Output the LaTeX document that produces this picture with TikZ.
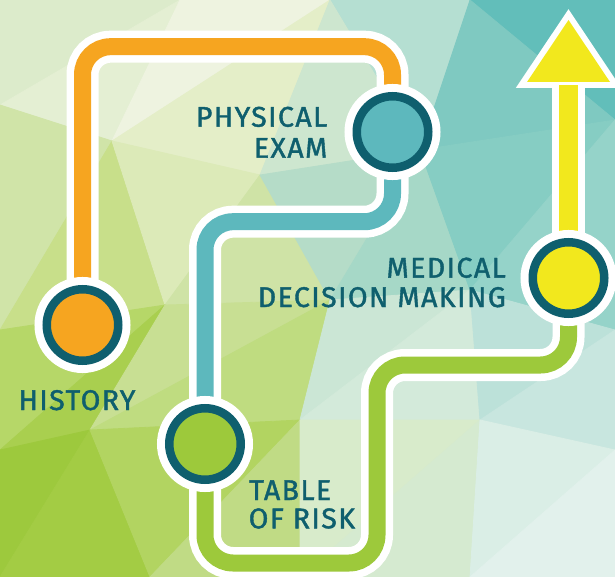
\documentclass[tikz,border=0pt]{standalone}
\usepackage{fontspec}
\newfontfamily\labelfont{Fira Sans}[LetterSpace=5,FakeBold=1.4]
\definecolor{orangec}{HTML}{F6A520}
\definecolor{tealc}{HTML}{5DB8BD}
\definecolor{greenc}{HTML}{9DC93B}
\definecolor{yellowc}{HTML}{F2E81D}
\definecolor{ringc}{HTML}{0F5F6E}
\definecolor{textc}{HTML}{0F5F6E}
\pgfdeclarelayer{bgpoly}
\pgfdeclarelayer{lines}
\pgfsetlayers{bgpoly,lines,main}
\newcommand\polytri[4]{\definecolor{tmpc}{HTML}{#4}\filldraw[fill=tmpc,draw=tmpc,line width=0.8pt,line join=round] (#1)--(#2)--(#3)--cycle;}
\tikzset{
  stopnode/.style={circle, minimum size=71.5pt, inner sep=0pt, line width=8.5pt, draw=ringc, fill=#1, preaction={draw=white, line width=24.5pt}},
  whiteband/.style={draw=white, line width=32pt, rounded corners=28pt},
  colorband/.style={draw=#1, line width=17pt, rounded corners=28pt},
  lbl/.style={text=textc, font=\labelfont\fontsize{28.5}{30}\selectfont, inner sep=0pt}
}
\begin{document}
\begin{tikzpicture}[x=1pt,y=-1pt]
\useasboundingbox (0,0) rectangle (615,577);
% mesh vertices
\coordinate (a0) at (0,0);   \coordinate (a1) at (180,0);   \coordinate (a2) at (330,0);   \coordinate (a3) at (470,0);   \coordinate (a4) at (615,0);
\coordinate (b0) at (0,105); \coordinate (b1) at (112,141); \coordinate (b2) at (260,175); \coordinate (b3) at (420,150); \coordinate (b4) at (615,120);
\coordinate (c0) at (0,330); \coordinate (c1) at (165,305); \coordinate (c2) at (330,300); \coordinate (c3) at (470,290); \coordinate (c4) at (615,330);
\coordinate (d0) at (0,450); \coordinate (d1) at (90,430);  \coordinate (d2) at (300,420); \coordinate (d3) at (480,420); \coordinate (d4) at (615,450);
\coordinate (e0) at (0,577); \coordinate (e1) at (150,577); \coordinate (e2) at (300,577); \coordinate (e3) at (470,577); \coordinate (e4) at (615,577);
\begin{pgfonlayer}{bgpoly}
\polytri{a0}{a1}{b0}{DCEBCB}\polytri{a1}{b1}{b0}{E4EFD3}
\polytri{a1}{a2}{b1}{EEF3E0}\polytri{a2}{b2}{b1}{E4EEC8}
\polytri{a2}{a3}{b3}{B5DFD2}\polytri{a2}{b3}{b2}{CDE6CF}
\polytri{a3}{a4}{b4}{62BEBA}\polytri{a3}{b4}{b3}{7FC9C1}
\polytri{b0}{b1}{c0}{D0E4A8}\polytri{b1}{c1}{c0}{C8DF8A}
\polytri{b1}{b2}{c1}{DCEAB8}\polytri{b2}{c2}{c1}{CFE3A6}
\polytri{b2}{b3}{c2}{B5DCC8}\polytri{b3}{c3}{c2}{A6D8C7}
\polytri{b3}{b4}{c3}{86CDC3}\polytri{b4}{c4}{c3}{95D3C9}
\polytri{c0}{c1}{d0}{B6D768}\polytri{c1}{d1}{d0}{A9CF4F}
\polytri{c1}{c2}{d1}{C8DF93}\polytri{c2}{d2}{d1}{BFDC80}
\polytri{c2}{c3}{d2}{CBE6D5}\polytri{c3}{d3}{d2}{D3EADA}
\polytri{c3}{c4}{d3}{BCE1D9}\polytri{c4}{d4}{d3}{C8E6DF}
\polytri{d0}{d1}{e0}{9DC93D}\polytri{d1}{e1}{e0}{A3CC44}
\polytri{d1}{d2}{e1}{B2D461}\polytri{d2}{e2}{e1}{C0DB85}
\polytri{d2}{d3}{e2}{D8EBCB}\polytri{d3}{e3}{e2}{D5EAD0}
\polytri{d3}{d4}{e3}{DAEEE6}\polytri{d4}{e4}{e3}{E2F1EC}
\end{pgfonlayer}
% stops
\node[stopnode=orangec] (history) at (82.5,325) {};
\node[stopnode=tealc]   (exam)    at (392.5,132) {};
\node[stopnode=greenc]  (risk)    at (205,444) {};
\node[stopnode=yellowc] (mdm)     at (568.5,278) {};
% bend levels
\coordinate (otop) at (0,46.7);
\coordinate (tmid) at (0,221.7);
\coordinate (gbot) at (0,563);
\coordinate (gmid) at (0,365);
\coordinate (gx)   at (377,0);
\coordinate (headbase) at (568.5,85);
\coordinate (tip) at (568.5,20);
\coordinate (hl) at (527,82);
\coordinate (hr) at (610,82);
\begin{pgfonlayer}{lines}
\foreach \sty/\col in {whiteband/white, colorband/orangec}{
  \draw[\sty=\col] (history.center) -- (history.center |- otop) -- (exam.center |- otop) -- (exam.center);}
\foreach \sty/\col in {whiteband/white, colorband/tealc}{
  \draw[\sty=\col] (exam.center) -- (exam.center |- tmid) -- (risk.center |- tmid) -- (risk.center);}
\foreach \sty/\col in {whiteband/white, colorband/greenc}{
  \draw[\sty=\col] (risk.center) -- (risk.center |- gbot) -- (gx |- gbot) -- (gx |- gmid) -- (mdm.center |- gmid) -- (mdm.center);}
\draw[draw=white, line width=33pt] (mdm.center) -- (headbase);
\filldraw[draw=white, fill=white, line width=12pt, line join=miter, miter limit=10] (tip) -- (hr) -- (hl) -- cycle;
\draw[draw=yellowc, line width=19pt] (mdm.center) -- (headbase);
\fill[yellowc] (tip) -- (hr) -- (hl) -- cycle;
\end{pgfonlayer}
% labels
\node[lbl, anchor=base east] (exam1) at (327.5,126.7) {PHYSICAL};
\node[lbl, anchor=base east] (exam2) at (327.5,157.7) {EXAM};
\node[lbl, anchor=base east] (mdm1) at (506,277.6) {MEDICAL};
\node[lbl, anchor=base east] (mdm2) at (506,307) {DECISION MAKING};
\node[lbl, anchor=base] (hist1) at (77,410) {HISTORY};
\node[lbl, anchor=base west] (risk1) at (249,500) {TABLE};
\node[lbl, anchor=base west] (risk2) at (248.5,528.3) {OF RISK};
\end{tikzpicture}
\end{document}
